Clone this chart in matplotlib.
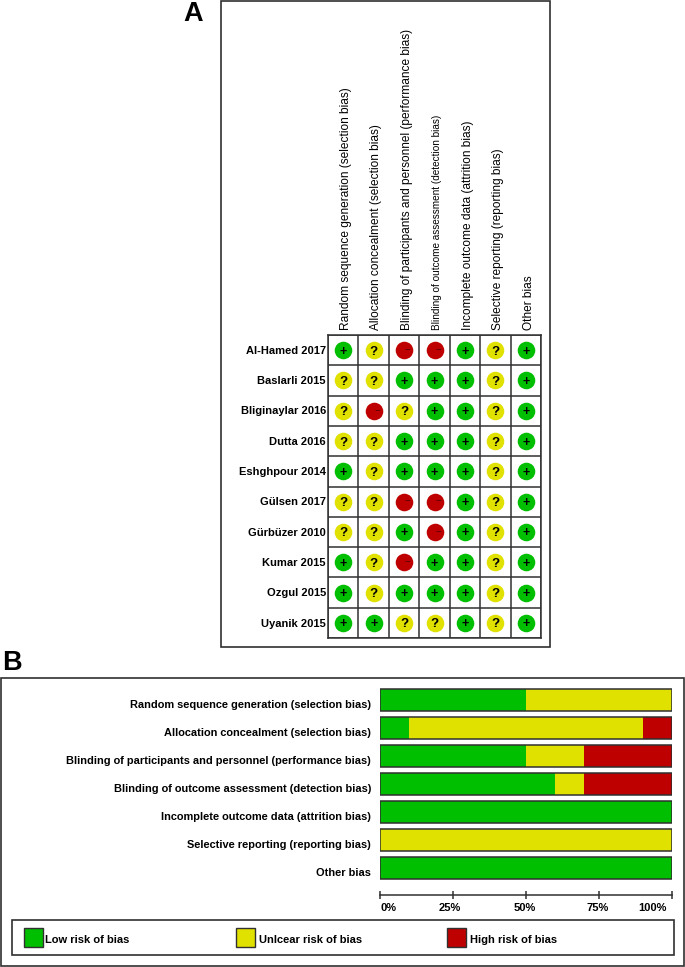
import matplotlib
matplotlib.use('Agg')
import matplotlib.pyplot as plt
from matplotlib.patches import Rectangle

plt.rcParams['font.family'] = ['Liberation Sans', 'DejaVu Sans']

W, H = 685, 967

# Panel A data
studies = ['Al-Hamed 2017', 'Baslarli 2015', 'Bliginaylar 2016', 'Dutta 2016', 'Eshghpour 2014',
           'Gülsen 2017', 'Gürbüzer 2010', 'Kumar 2015', 'Ozgul 2015', 'Uyanik 2015']
domains_a = ['Random sequence generation (selection bias)',
             'Allocation concealment (selection bias)',
             'Blinding of participants and personnel (performance bias)',
             'Blinding of outcome assessment (detection bias)',
             'Incomplete outcome data (attrition bias)',
             'Selective reporting (reporting bias)',
             'Other bias']
judgements = ['+?--+?+',
              '??+++?+',
              '?-?++?+',
              '??+++?+',
              '+?+++?+',
              '??--+?+',
              '??+-+?+',
              '+?-++?+',
              '+?+++?+',
              '++??+?+']

# Panel B data
domains_b = ['Random sequence generation (selection bias)',
             'Allocation concealment (selection bias)',
             'Blinding of participants and personnel (performance bias)',
             'Blinding of outcome assessment (detection bias)',
             'Incomplete outcome data (attrition bias)',
             'Selective reporting (reporting bias)',
             'Other bias']
low_risk = [50, 10, 50, 60, 100, 0, 100]
unclear_risk = [50, 80, 20, 10, 0, 100, 0]
high_risk = [0, 10, 30, 30, 0, 0, 0]
pct_ticks = [0, 25, 50, 75, 100]
pct_labels = ['0%', '25%', '50%', '75%', '100%']
legend_labels = ['Low risk of bias', 'Unlcear risk of bias', 'High risk of bias']

GREEN = '#00BF00'
YELLOW = '#E1E100'
RED = '#BF0000'
LINE = '#303030'
symbol_colors = {'+': GREEN, '?': YELLOW, '-': RED}


def px_axes(fig, x0, y0, x1, y1):
    # axes from pixel box, y counted from the top
    return fig.add_axes([x0 / W, 1 - y1 / H, (x1 - x0) / W, (y1 - y0) / H])


def px_frame(fig, x0, y0, x1, y1, lw=1.2):
    fig.add_artist(Rectangle((x0 / W, 1 - y1 / H), (x1 - x0) / W, (y1 - y0) / H,
                             transform=fig.transFigure, fill=False, edgecolor=LINE, linewidth=lw))


fig = plt.figure(figsize=(W / 100, H / 100), dpi=100)

# Panel frames and letters
px_frame(fig, 220.5, 1, 550, 647)
px_frame(fig, 1, 678, 684, 965.5)
px_frame(fig, 12, 920, 674, 955)
fig.text(193 / W, 1 - 14 / H, 'A', fontsize=19.5, fontweight='bold', ha='center', va='center')
fig.text(11.5 / W, 1 - 663 / H, 'B', fontsize=19.5, fontweight='bold', ha='center', va='center')

# Panel A - traffic light grid
ax_a = px_axes(fig, 328, 335, 541, 638)
ax_a.set_xlim(0, len(domains_a))
ax_a.set_ylim(len(studies), 0)
ax_a.set_xticks(range(len(domains_a) + 1))
ax_a.set_yticks(range(len(studies) + 1))
ax_a.grid(True, color=LINE, linewidth=1.1)
ax_a.set_axisbelow(True)
ax_a.tick_params(length=0, labelbottom=False, labelleft=False)
for s in ax_a.spines.values():
    s.set_color(LINE)
    s.set_linewidth(1.1)

for r, row in enumerate(judgements):
    for c, j in enumerate(row):
        ax_a.scatter(c + 0.5, r + 0.5, s=160, color=symbol_colors[j], linewidths=0, zorder=3)
        if j == '+':
            ax_a.text(c + 0.5, r + 0.5, '+', fontsize=9, fontweight='bold', color='black',
                      ha='center', va='center_baseline', zorder=4)
        elif j == '?':
            ax_a.text(c + 0.5, r + 0.5, '?', fontsize=9.5, fontweight='bold', color='black',
                      ha='center', va='center_baseline', zorder=4)
        else:
            ax_a.text(c + 0.62, r + 0.46, '\u2212', fontsize=7, color='#500000',
                      ha='center', va='center_baseline', zorder=4)

for r, name in enumerate(studies):
    ax_a.annotate(name, (0, r + 0.5), xycoords='data', xytext=(-1.5, -0.5), textcoords='offset points',
                  ha='right', va='center', fontsize=8, fontweight='bold')

for c, name in enumerate(domains_a):
    size = 7.2 if c == 3 else 8.6
    ax_a.annotate(name, (c + 0.5, 0), xycoords='data', xytext=(2, 3.5), textcoords='offset points',
                  rotation=90, ha='center', va='bottom', fontsize=size)

# Panel B - stacked bars
ax_b = px_axes(fig, 380, 685, 672, 895)
y_pos = list(range(len(domains_b)))
left_unclear = [a for a in low_risk]
left_high = [a + b for a, b in zip(low_risk, unclear_risk)]
for vals, lefts, col in [(low_risk, [0] * len(low_risk), GREEN),
                         (unclear_risk, left_unclear, YELLOW),
                         (high_risk, left_high, RED)]:
    ax_b.barh(y_pos, vals, left=lefts, height=0.78, color=col, linewidth=0, zorder=2)
# dark outline around each whole bar
ax_b.barh(y_pos, [100] * len(y_pos), height=0.78, fill=False, edgecolor=LINE, linewidth=1.1, zorder=3)

ax_b.set_xlim(0, 100)
ax_b.set_ylim(6.96, -0.54)
for side in ['top', 'left', 'right']:
    ax_b.spines[side].set_visible(False)
ax_b.spines['bottom'].set_color(LINE)
ax_b.spines['bottom'].set_linewidth(1.1)
ax_b.set_yticks([])
for y, name in zip(y_pos, domains_b):
    ax_b.annotate(name, (0, y), xycoords='data', xytext=(-6.5, -3.2), textcoords='offset points',
                  ha='right', va='center', fontsize=7.9, fontweight='bold')
ax_b.set_xticks(pct_ticks)
ax_b.set_xticklabels([])
ax_b.tick_params(axis='x', length=6, width=1.1, color=LINE, direction='inout')
for tick, lab, dx in zip(pct_ticks, pct_labels, [6, -2, -1, -1, -14]):
    ax_b.annotate(lab, (tick, 0), xycoords=('data', 'axes fraction'), xytext=(dx, -9.5),
                  textcoords='offset points', ha='center', va='center', fontsize=8, fontweight='bold')

# Legend strip
ax_leg = px_axes(fig, 12, 920, 674, 955)
ax_leg.set_xlim(12, 674)
ax_leg.set_ylim(955, 920)
ax_leg.axis('off')
for x0, lab, col, tx in zip([24, 236, 447], legend_labels, [GREEN, YELLOW, RED], [45, 259, 470]):
    ax_leg.add_patch(Rectangle((x0, 928), 18.5, 19, facecolor=col, edgecolor=LINE, linewidth=1))
    ax_leg.text(tx, 940, lab, fontsize=8, fontweight='bold', ha='left', va='center')

fig.savefig('out.png', dpi=100)
